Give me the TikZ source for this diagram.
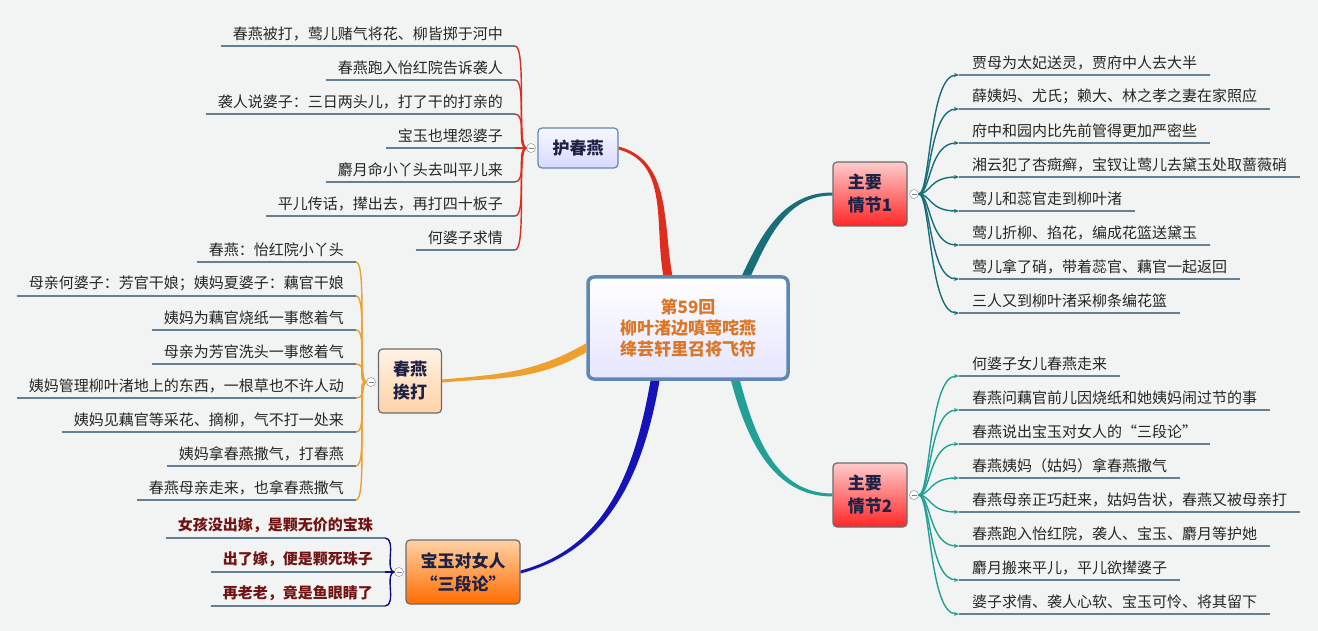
\documentclass[tikz,border=0pt]{standalone}
\usepackage{fontspec}
\setmainfont{Noto Sans CJK SC}
\usetikzlibrary{arrows.meta}

\definecolor{bgpaper}{RGB}{241,244,243}
\definecolor{ulinecol}{RGB}{100,128,148}
\definecolor{hred}{RGB}{222,45,30}
\definecolor{aorange}{RGB}{238,160,45}
\definecolor{sblue}{RGB}{20,20,185}
\definecolor{tealA}{RGB}{25,110,122}
\definecolor{tealB}{RGB}{35,160,150}
\definecolor{boxblue}{RGB}{95,135,180}
\definecolor{titleorange}{RGB}{218,118,38}
\definecolor{navytext}{RGB}{30,35,70}
\definecolor{wine}{RGB}{115,20,20}

\begin{document}
\begin{tikzpicture}[x=1pt,y=1pt,
  leafl/.style={anchor=south east,inner xsep=12pt,inner ysep=5pt,text=black!85,font=\fontsize{15}{18}\selectfont},
  leafr/.style={anchor=south west,inner xsep=13pt,inner ysep=5pt,text=black!85,font=\fontsize{15}{18}\selectfont},
  uline/.style={draw=ulinecol,line width=2.6pt},
  knob/.style={circle,draw=gray,fill=white,inner sep=0pt,minimum size=9pt,
    path picture={\draw[gray,thin] ([xshift=2pt]path picture bounding box.west) -- ([xshift=-2pt]path picture bounding box.east);}},
  topic/.style={rounded corners=4pt,draw=gray!85!black,line width=1.2pt,inner sep=0pt,align=center,
    text=navytext,font=\bfseries\fontsize{17}{23}\selectfont},
  twig/.style={line width=1.4pt}]

\fill[bgpaper] (0,0) rectangle (1318,-631);

% centre
\node[rounded corners=6pt,draw=boxblue,line width=3.5pt,top color=white,bottom color=blue!10,
  minimum width=200,minimum height=102,align=center,text=titleorange,
  font=\bfseries\fontsize{17}{21}\selectfont] (main) at (688,-328)
  {第59回\\柳叶渚边嗔莺咤燕\\绛芸轩里召将飞符};

% topics
\node[topic,top color=blue!3,bottom color=blue!15,draw=boxblue,minimum width=80,minimum height=40] (hcy) at (578,-148) {护春燕};
\node[topic,top color=orange!10,bottom color=orange!35,minimum width=63,minimum height=64] (cyat) at (410,-381) {春燕\\挨打};
\node[topic,top color=orange!35,bottom color=orange!85!red,minimum width=114,minimum height=64] (sdl) at (463,-572) {宝玉对女人\\“三段论”};
\node[topic,top color=red!20,bottom color=red!85,minimum width=74,minimum height=64,align=left] (qj1) at (870,-194) {主要\\情节1};
\node[topic,top color=red!20,bottom color=red!85,minimum width=74,minimum height=64,align=left] (qj2) at (870,-495) {主要\\情节2};

% tapered branches
\fill[hred] ([xshift=-4.5pt]main.111) to[out=100,in=-15] ([yshift=-1.5pt]hcy.east)
  -- ([yshift=1.5pt]hcy.east) to[out=-15,in=100] ([xshift=4.5pt]main.111) -- cycle;
\fill[tealA] ([xshift=-4.5pt]main.42) to[out=65,in=180] ([yshift=1.5pt]qj1.west)
  -- ([yshift=-1.5pt]qj1.west) to[out=180,in=65] ([xshift=4.5pt]main.42) -- cycle;
\fill[aorange] ([yshift=-4.5pt]main.191) to[out=210,in=5] ([yshift=-1.5pt]cyat.east)
  -- ([yshift=1.5pt]cyat.east) to[out=5,in=210] ([yshift=4.5pt]main.191) -- cycle;
\fill[sblue] ([xshift=4.5pt]main.238) to[out=-100,in=15] ([yshift=-1.5pt]sdl.east)
  -- ([yshift=1.5pt]sdl.east) to[out=15,in=-100] ([xshift=-4.5pt]main.238) -- cycle;
\fill[tealB] ([xshift=4.5pt]main.-48) to[out=-75,in=180] ([yshift=1.5pt]qj2.west)
  -- ([yshift=-1.5pt]qj2.west) to[out=180,in=-75] ([xshift=-4.5pt]main.-48) -- cycle;

% knobs
\node[knob] (hk) at (531,-148) {};
\node[knob] (ak) at (371,-382) {};
\node[knob] (sk) at (399,-572) {};
\node[knob] (k1) at (914,-194) {};
\node[knob] (k2) at (914,-495) {};

% 护春燕
\foreach \t [count=\i] in {春燕被打，莺儿赌气将花、柳皆掷于河中,%
  春燕跑入怡红院告诉袭人,%
  袭人说婆子：三日两头儿，打了干的打亲的,%
  宝玉也埋怨婆子,%
  麝月命小丫头去叫平儿来,%
  平儿传话，撵出去，再打四十板子,%
  何婆子求情} {
  \node[leafl] (h\i) at (515,{-12-34*\i}) {\t};
  \draw[twig,hred] (hk.west) .. controls +(-10,0) and +(12,0) .. (h\i.south east);
  \draw[uline] (h\i.south west) -- (h\i.south east);
}

% 春燕挨打
\foreach \t [count=\i] in {春燕：怡红院小丫头,%
  母亲何婆子：芳官干娘；姨妈夏婆子：藕官干娘,%
  姨妈为藕官烧纸一事憋着气,%
  母亲为芳官洗头一事憋着气,%
  姨妈管理柳叶渚地上的东西，一根草也不许人动,%
  姨妈见藕官等采花、摘柳，气不打一处来,%
  姨妈拿春燕撒气，打春燕,%
  春燕母亲走来，也拿春燕撒气} {
  \node[leafl] (a\i) at (356,{-228-34*\i}) {\t};
  \draw[twig,aorange] (ak.west) .. controls +(-10,0) and +(12,0) .. (a\i.south east);
  \draw[uline] (a\i.south west) -- (a\i.south east);
}

% 三段论
\foreach \t [count=\i] in {女孩没出嫁，是颗无价的宝珠,%
  出了嫁，便是颗死珠子,%
  再老老，竟是鱼眼睛了} {
  \node[leafl,text=wine,font=\bfseries\fontsize{15}{18}\selectfont] (s\i) at (385,{-504-34*\i}) {\t};
  \draw[twig,sblue!70!black] (sk.west) .. controls +(-10,0) and +(12,0) .. (s\i.south east);
  \draw[uline] (s\i.south west) -- (s\i.south east);
}

% 主要情节1
\foreach \t [count=\i] in {贾母为太妃送灵，贾府中人去大半,%
  薛姨妈、尤氏；赖大、林之孝之妻在家照应,%
  府中和园内比先前管得更加严密些,%
  湘云犯了杏癍癣，宝钗让莺儿去黛玉处取蔷薇硝,%
  莺儿和蕊官走到柳叶渚,%
  莺儿折柳、掐花，编成花篮送黛玉,%
  莺儿拿了硝，带着蕊官、藕官一起返回,%
  三人又到柳叶渚采柳条编花篮} {
  \node[leafr] (p\i) at (959,{-41-34*\i}) {\t};
  \draw[twig,tealA,-{Stealth[length=5pt,width=4pt]}] (k1.east) .. controls +(12,0) and +(-30,0) .. (p\i.south west);
  \draw[uline] (p\i.south west) -- (p\i.south east);
}

% 主要情节2
\foreach \t [count=\i] in {何婆子女儿春燕走来,%
  春燕问藕官前儿因烧纸和她姨妈闹过节的事,%
  春燕说出宝玉对女人的“三段论”,%
  春燕姨妈（姑妈）拿春燕撒气,%
  春燕母亲正巧赶来，姑妈告状，春燕又被母亲打,%
  春燕跑入怡红院，袭人、宝玉、麝月等护她,%
  麝月搬来平儿，平儿欲撵婆子,%
  婆子求情、袭人心软、宝玉可怜、将其留下} {
  \node[leafr] (q\i) at (959,{-342-34*\i}) {\t};
  \draw[twig,tealB,-{Stealth[length=5pt,width=4pt]}] (k2.east) .. controls +(12,0) and +(-30,0) .. (q\i.south west);
  \draw[uline] (q\i.south west) -- (q\i.south east);
}
\end{tikzpicture}
\end{document}
